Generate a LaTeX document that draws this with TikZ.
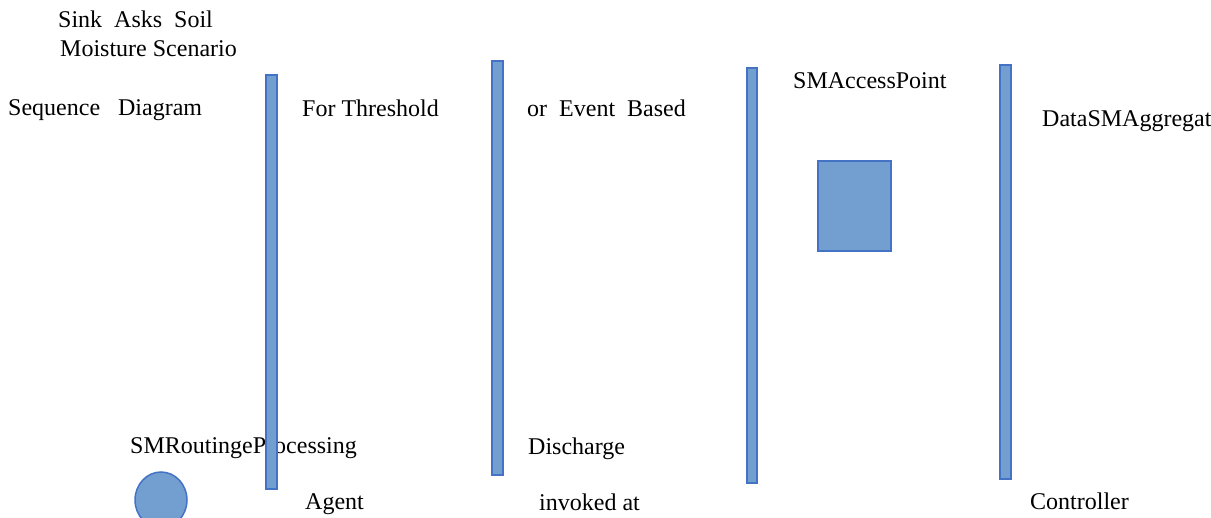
\documentclass[tikz,border=0pt]{standalone}
\usepackage{fontspec}
\setmainfont{Liberation Serif}
\usetikzlibrary{positioning}
\definecolor{barfill}{RGB}{114,159,207}
\definecolor{barline}{RGB}{68,114,196}

\begin{document}
\begin{tikzpicture}[x=1pt,y=-1pt,
        lbl/.style={anchor=base west,inner sep=0pt,font=\fontsize{24}{28}\selectfont},
        lifebar/.style={fill=barfill,draw=barline,line width=1.5pt}]
            \useasboundingbox (0,0) rectangle (1211,518);

            % title lines
            \node[lbl] (sink) at (58,28) {Sink\ \ Asks\ \ Soil};
            \node[lbl] (moisture) at (60,57) {Moisture Scenario};
            \node[lbl] (sequence) at (8,116) {Sequence\ \ \ Diagram};
            \node[lbl] (threshold) at (302,117) {For Threshold};
            \node[lbl] (event) at (527,117) {or\ \ Event\ \ Based};

            % names of the parts
            \node[lbl] (access) at (793,89) {SMAccessPoint};
            \node[lbl] (aggregat) at (1042,127) {DataSMAggregat};
            \node[lbl] (routing) at (130,454) {SMRoutingeProcessing};
            \node[lbl] (discharge) at (528,455) {Discharge};
            \node[lbl] (agent) at (305,510) {Agent};
            \node[lbl] (invoked) at (539,511) {invoked at};
            \node[lbl] (controller) at (1030,510) {Controller};

            % life lines
            \filldraw[lifebar] (266,75) rectangle (277,489);
            \filldraw[lifebar] (492,61) rectangle (503,475);
            \filldraw[lifebar] (747,68) rectangle (757,483);
            \filldraw[lifebar] (1000,65) rectangle (1011,479);

            % box of the access point
            \filldraw[lifebar] (818,161) rectangle (891,251);

            % actor, cut by the lower edge
            \begin{scope}
                \clip (0,0) rectangle (1211,518);
                \filldraw[lifebar] (161,500) ellipse (26pt and 28pt);
            \end{scope}
\end{tikzpicture}
\end{document}
